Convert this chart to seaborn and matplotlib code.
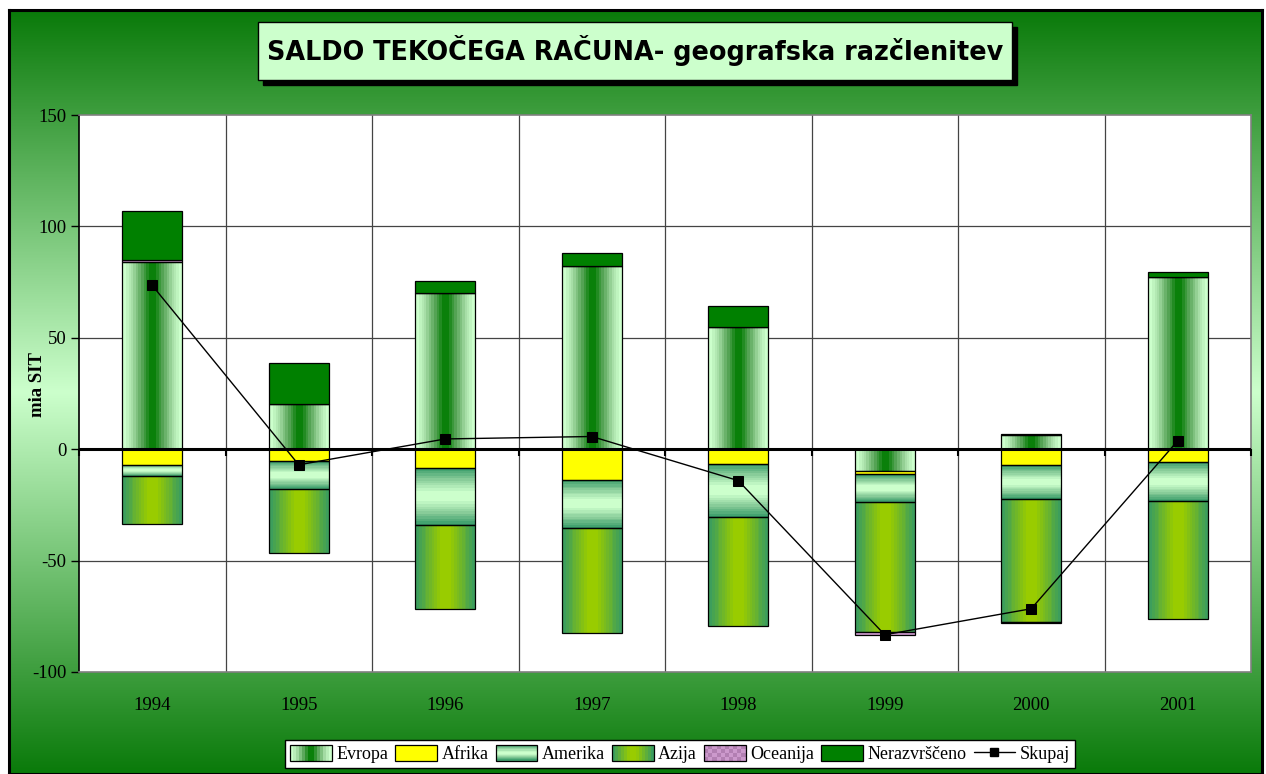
import numpy as np
import pandas as pd
import matplotlib
matplotlib.use("Agg")
import matplotlib.pyplot as plt
import seaborn as sns
from matplotlib.patches import Rectangle, Patch
from matplotlib.lines import Line2D
from matplotlib.colors import LinearSegmentedColormap
from matplotlib.legend_handler import HandlerBase

# ---------------- data (mia SIT) ----------------
years = ["1994", "1995", "1996", "1997", "1998", "1999", "2000", "2001"]
evropa = [84.0, 20.1, 69.9, 82.2, 54.7, -9.6, 6.2, 77.4]
afrika = [-7.0, -5.3, -8.3, -13.6, -6.5, -1.6, -7.2, -5.8]
amerika = [-5.0, -12.4, -25.8, -21.8, -24.1, -12.4, -15.2, -17.3]
azija = [-21.7, -28.7, -37.5, -47.3, -48.7, -58.6, -55.0, -53.3]
oceanija = [1.0, 0.0, 0.0, 0.0, 0.0, -1.2, -0.5, 0.0]
nerazvrsceno = [22.0, 18.4, 5.5, 6.0, 9.6, 0.0, 0.7, 2.1]
skupaj = [73.5, -7.0, 4.6, 5.7, -14.1, -83.3, -71.6, 3.8]

series_names = ["Evropa", "Afrika", "Amerika", "Azija", "Oceanija", "Nerazvrščeno"]
series_vals = [evropa, afrika, amerika, azija, oceanija, nerazvrsceno]
title = "SALDO TEKOČEGA RAČUNA- geografska razčlenitev"
ylabel = "mia SIT"
yticks = [-100, -50, 0, 50, 100, 150]

df = pd.DataFrame({"leto": years, **dict(zip(series_names, series_vals)), "Skupaj": skupaj})

# ---------------- style ----------------
sns.set_style("white")
plt.rcParams["font.family"] = ["Liberation Serif", "DejaVu Serif"]
plt.rcParams["text.color"] = "black"
plt.rcParams["axes.labelcolor"] = "black"
plt.rcParams["xtick.color"] = "black"
plt.rcParams["ytick.color"] = "black"

W, H = 1266, 774
fig = plt.figure(figsize=(W / 100, H / 100), dpi=100)
fig.patch.set_facecolor("white")

# background gradient panel
bg = fig.add_axes([9 / W, 0, (1262 - 9) / W, (H - 10) / H])
bg_cmap = LinearSegmentedColormap.from_list("bg", ["#0a7a0a", "#ccffcc", "#0a7a0a"])
bg.imshow(np.linspace(0, 1, 256).reshape(-1, 1), cmap=bg_cmap, aspect="auto",
          extent=(0, 1, 0, 1), origin="upper")
bg.set_xticks([]); bg.set_yticks([])
for s in bg.spines.values():
    s.set_color("black"); s.set_linewidth(2.2)
bg.set_zorder(-10)

# title box with shadow
fig.patches.append(Rectangle((263 / W, 1 - 85 / H), (1012 - 258) / W, (80 - 22) / H,
                             transform=fig.transFigure, facecolor="black", edgecolor="black", zorder=2))
fig.patches.append(Rectangle((258 / W, 1 - 80 / H), (1012 - 258) / W, (80 - 22) / H,
                             transform=fig.transFigure, facecolor="#ccffcc", edgecolor="black",
                             linewidth=1, zorder=3))
fig.text((258 + 1012) / 2 / W, 1 - 51 / H, title, ha="center", va="center", color="black",
         fontsize=18.4, fontweight="bold", family=["DejaVu Sans"], zorder=4)

# main axes
ax = fig.add_axes([79 / W, 1 - 672 / H, (1251 - 79) / W, (672 - 115) / H])
ax.set_facecolor("white")
ax.set_zorder(1)

# gradient colormaps
band = 10
def sym_profile(n=64, banded=True, lo=0.0, hi=1.0):
    t = (np.arange(n) + 0.5) / n
    v = 1 - np.abs(2 * t - 1)
    v = np.clip((v - lo) / (hi - lo), 0, 1)
    if banded:
        v = np.round(v * band) / band
    return v

cm_evropa = LinearSegmentedColormap.from_list("ev", ["#ccffcc", "#a3dba3", "#5da85d", "#0a800a"])
cm_amerika = LinearSegmentedColormap.from_list("am", ["#339966", "#88cc99", "#ccffcc"])
cm_azija = LinearSegmentedColormap.from_list("az", ["#339966", "#99cc00"])

grad_spec = {
    "Evropa": (cm_evropa, "h", 0.08, 0.92),
    "Amerika": (cm_amerika, "v", 0.0, 0.85),
    "Azija": (cm_azija, "h", 0.0, 0.85),
}
solid_spec = {"Afrika": "#ffff00", "Oceanija": "#cc99cc", "Nerazvrščeno": "#008000"}

x = np.arange(len(years))
bw = 0.41
pos_base = np.zeros(len(years))
neg_base = np.zeros(len(years))
for name in series_names:
    vals = df[name].to_numpy()
    bottoms = np.where(vals >= 0, pos_base, neg_base)
    if name in grad_spec:
        bars = ax.bar(x, vals, bw, bottom=bottoms, facecolor="none", edgecolor="black",
                      linewidth=0.9, zorder=3)
        cmap, orient, lo, hi = grad_spec[name]
        prof = sym_profile(lo=lo, hi=hi)
        arr = prof.reshape(1, -1) if orient == "h" else prof.reshape(-1, 1)
        for b, v in zip(bars, vals):
            if v == 0:
                continue
            x0, y0 = b.get_x(), b.get_y()
            x1, y1 = x0 + b.get_width(), y0 + b.get_height()
            im = ax.imshow(arr, cmap=cmap, vmin=0, vmax=1, aspect="auto",
                           extent=(x0, x1, min(y0, y1), max(y0, y1)), zorder=2.5,
                           interpolation="nearest")
            im.set_clip_path(b)
    else:
        ax.bar(x, vals, bw, bottom=bottoms, color=solid_spec[name], edgecolor="black",
               linewidth=0.9, zorder=3)
    pos_base = pos_base + np.where(vals >= 0, vals, 0)
    neg_base = neg_base + np.where(vals < 0, vals, 0)

# total line
sns.lineplot(x=x, y=df["Skupaj"], ax=ax, color="black", linewidth=1, marker="s",
             markersize=7, markeredgecolor="black", markerfacecolor="black", zorder=6,
             legend=False)

# axes formatting
ax.set_xlim(-0.5, len(years) - 0.5)
ax.set_ylim(-100, 150)
ax.set_yticks(yticks)
ax.set_yticklabels([str(t) for t in yticks], fontsize=13.5, color="black")
ax.set_xticks(x)
ax.set_xticklabels(years, fontsize=13.5, color="black")
ax.tick_params(axis="x", length=0, pad=18)
ax.tick_params(axis="y", direction="out", length=6, width=1, color="black", pad=3, left=True)
ax.set_xlabel("")
ax.set_ylabel("")
fig.text(37 / W, 1 - 385 / H, ylabel, rotation=90, ha="center", va="center",
         fontsize=13.5, fontweight="bold", color="black")

for yv in [-50, 50, 100]:
    ax.axhline(yv, color="#444444", linewidth=0.9, zorder=1)
bounds = np.arange(-0.5, len(years) + 0.5, 1.0)
for xb in bounds[1:-1]:
    ax.axvline(xb, color="#444444", linewidth=0.9, zorder=1)
ax.axhline(0, color="black", linewidth=2.2, zorder=4)
# category-axis tick marks on the zero line
ax.plot(bounds, np.zeros_like(bounds), linestyle="none", marker=3, markersize=5,
        markeredgewidth=1.5, color="black", zorder=4, clip_on=False)
for k, s in ax.spines.items():
    s.set_color("#808080"); s.set_linewidth(1.2)
ax.spines["left"].set_color("black")

# legend with gradient handles
class GradHandler(HandlerBase):
    def __init__(self, cmap, orient, lo=0.0, hi=1.0):
        super().__init__()
        self.cmap, self.orient, self.lo, self.hi = cmap, orient, lo, hi
    def create_artists(self, legend, orig_handle, xd, yd, width, height, fontsize, trans):
        arts = []
        n = 14
        prof = sym_profile(n, banded=False, lo=self.lo, hi=self.hi)
        for i in range(n):
            c = self.cmap(prof[i])
            if self.orient == "h":
                r = Rectangle((-xd + i * width / n, -yd), width / n + 0.3, height,
                              facecolor=c, edgecolor="none", transform=trans)
            else:
                r = Rectangle((-xd, -yd + i * height / n), width, height / n + 0.3,
                              facecolor=c, edgecolor="none", transform=trans)
            arts.append(r)
        arts.append(Rectangle((-xd, -yd), width, height, facecolor="none",
                              edgecolor="black", linewidth=0.9, transform=trans))
        return arts

class CheckHandler(HandlerBase):
    def create_artists(self, legend, orig_handle, xd, yd, width, height, fontsize, trans):
        arts = [Rectangle((-xd, -yd), width, height, facecolor="#cc99cc",
                          edgecolor="none", transform=trans)]
        nx, ny = 10, 4
        for i in range(nx):
            for j in range(ny):
                if (i + j) % 2 == 0:
                    arts.append(Rectangle((-xd + i * width / nx, -yd + j * height / ny),
                                          width / nx, height / ny, facecolor="#b27fb2",
                                          edgecolor="none", transform=trans))
        arts.append(Rectangle((-xd, -yd), width, height, facecolor="none",
                              edgecolor="black", linewidth=0.9, transform=trans))
        return arts

h_ev, h_am, h_az, h_oc = Patch(), Patch(), Patch(), Patch()
h_af = Patch(facecolor="#ffff00", edgecolor="black", linewidth=0.9)
h_ne = Patch(facecolor="#008000", edgecolor="black", linewidth=0.9)
h_sk = Line2D([], [], color="black", linewidth=1, marker="s", markersize=6)
handles = [h_ev, h_af, h_am, h_az, h_oc, h_ne, h_sk]
labels = series_names + ["Skupaj"]
leg = fig.legend(handles, labels, loc="center", bbox_to_anchor=(680 / W, 1 - 754 / H),
                 ncol=7, fontsize=13, frameon=True, fancybox=False, edgecolor="black",
                 framealpha=1, borderpad=0.3, handlelength=2.3, handleheight=0.95,
                 handletextpad=0.25, columnspacing=0.4,
                 handler_map={h_ev: GradHandler(cm_evropa, "h", 0.08, 0.92),
                              h_am: GradHandler(cm_amerika, "v", 0.0, 0.85),
                              h_az: GradHandler(cm_azija, "h", 0.0, 0.85),
                              h_oc: CheckHandler()})
leg.get_frame().set_linewidth(1)
leg.set_zorder(5)

fig.savefig("out.png", dpi=100)
